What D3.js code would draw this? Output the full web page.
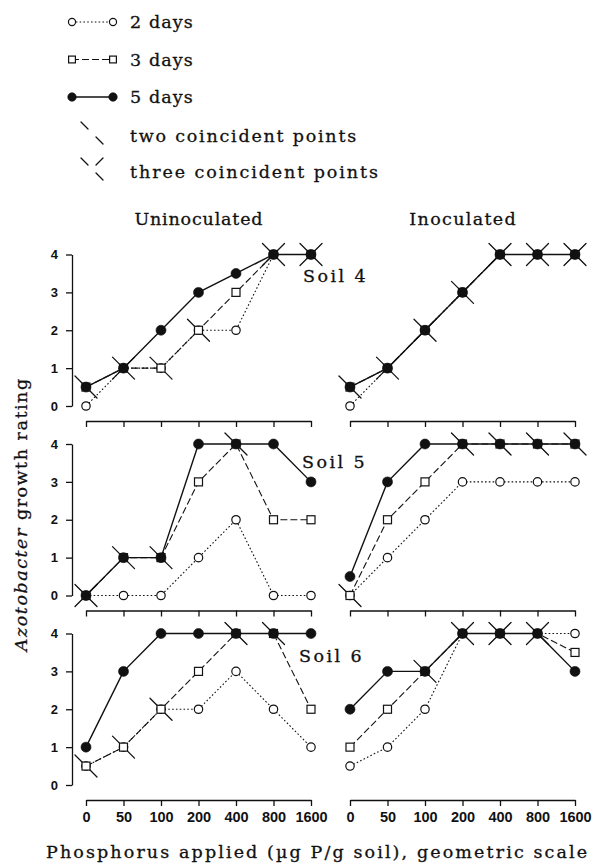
<!DOCTYPE html>
<html>
<head>
<meta charset="utf-8">
<script src="https://cdn.jsdelivr.net/npm/d3@7"></script>
<style>
  html, body { margin: 0; padding: 0; background: #fff; }
  svg { display: block; }
  .mono { font-family: "DejaVu Serif", "Liberation Serif", serif; fill: #111; stroke: #111; stroke-width: 0.3px; }
  .tick text { font-family: "Liberation Sans", Arial, sans-serif; font-weight: bold; fill: #111; }
</style>
</head>
<body>
<svg id="chart" width="594" height="864"></svg>
<script>
// ---- data ----
const categories = ["0", "50", "100", "200", "400", "800", "1600"];
const yTicks = [0, 1, 2, 3, 4];
const seriesNames = ["2 days", "3 days", "5 days"];
const soilNames = ["Soil 4", "Soil 5", "Soil 6"];
const treatments = ["Uninoculated", "Inoculated"];

const soil4Unin2 = [0, 1, 1, 2, 2, 4, 4];
const soil4Unin3 = [0.5, 1, 1, 2, 3, 4, 4];
const soil4Unin5 = [0.5, 1, 2, 3, 3.5, 4, 4];
const soil4Inoc2 = [0, 1, 2, 3, 4, 4, 4];
const soil4Inoc3 = [0.5, 1, 2, 3, 4, 4, 4];
const soil4Inoc5 = [0.5, 1, 2, 3, 4, 4, 4];

const soil5Unin2 = [0, 0, 0, 1, 2, 0, 0];
const soil5Unin3 = [0, 1, 1, 3, 4, 2, 2];
const soil5Unin5 = [0, 1, 1, 4, 4, 4, 3];
const soil5Inoc2 = [0, 1, 2, 3, 3, 3, 3];
const soil5Inoc3 = [0, 2, 3, 4, 4, 4, 4];
const soil5Inoc5 = [0.5, 3, 4, 4, 4, 4, 4];

const soil6Unin2 = [0.5, 1, 2, 2, 3, 2, 1];
const soil6Unin3 = [0.5, 1, 2, 3, 4, 4, 2];
const soil6Unin5 = [1, 3, 4, 4, 4, 4, 4];
const soil6Inoc2 = [0.5, 1, 2, 4, 4, 4, 4];
const soil6Inoc3 = [1, 2, 3, 4, 4, 4, 3.5];
const soil6Inoc5 = [2, 3, 3, 4, 4, 4, 3];

const panelData = [
  [[soil4Unin2, soil4Unin3, soil4Unin5], [soil4Inoc2, soil4Inoc3, soil4Inoc5]],
  [[soil5Unin2, soil5Unin3, soil5Unin5], [soil5Inoc2, soil5Inoc3, soil5Inoc5]],
  [[soil6Unin2, soil6Unin3, soil6Unin5], [soil6Inoc2, soil6Inoc3, soil6Inoc5]]
];

// ---- layout ----
const svg = d3.select("#chart");
const ink = "#111";
const colRanges = [[86, 311], [350, 575]];
const rowTops = [254.5, 444, 633.5];
const rowH = 151.5;
const axisGap = 15;
const fontSize = 17.5;
const charW = 10.9;

const xScales = colRanges.map(r => d3.scalePoint().domain(categories).range(r));

const dashStyles = ["1.6,2.2", "7,3", null];
const lineWidths = [1.1, 1.1, 1.4];

function typeText(sel, str, perChar) {
  sel.attr("class", "mono").style("font-size", fontSize + "px")
    .attr("textLength", (str.length - 0.25) * perChar).attr("lengthAdjust", "spacing");
  return sel;
}

function drawMarker(g, type, cx, cy, small) {
  const k = small ? 0.85 : 1;
  if (type === 0) {
    g.append("circle").attr("cx", cx).attr("cy", cy).attr("r", 4.2 * k)
      .attr("fill", "#fff").attr("stroke", ink).attr("stroke-width", 1.2);
  } else if (type === 1) {
    const s = 8 * k;
    g.append("rect").attr("x", cx - s / 2).attr("y", cy - s / 2).attr("width", s).attr("height", s)
      .attr("fill", "#fff").attr("stroke", ink).attr("stroke-width", 1.2);
  } else {
    g.append("circle").attr("cx", cx).attr("cy", cy).attr("r", 5 * k)
      .attr("fill", ink).attr("stroke", ink).attr("stroke-width", 0.6);
  }
}

function drawArms(g, cx, cy, dirs) {
  dirs.forEach(([dx, dy]) => {
    g.append("line")
      .attr("x1", cx + dx * 4).attr("y1", cy + dy * 4)
      .attr("x2", cx + dx * 11).attr("y2", cy + dy * 11)
      .attr("stroke", ink).attr("stroke-width", 1.3).attr("stroke-linecap", "round");
  });
}

// ---- legend ----
const legendRows = [22, 59.5, 97, 136, 172];
const legendTexts = ["2 days", "3 days", "5 days", "two coincident points", "three coincident points"];
const lg = svg.append("g");
[0, 1, 2].forEach(i => {
  const yy = legendRows[i];
  lg.append("line").attr("x1", 72).attr("x2", 113).attr("y1", yy).attr("y2", yy)
    .attr("stroke", ink).attr("stroke-width", lineWidths[i])
    .attr("stroke-dasharray", dashStyles[i]);
  drawMarker(lg, i, 72, yy, true);
  drawMarker(lg, i, 113, yy, true);
});
drawArms(lg, 92, legendRows[3] - 3, [[-1, -1], [1, 1]]);
drawArms(lg, 92, legendRows[4] - 3, [[-1, -1], [1, -1], [1, 1]]);
legendTexts.forEach((t, i) => {
  typeText(lg.append("text"), t, charW).attr("x", 130).attr("y", legendRows[i])
    .attr("dy", "0.35em").text(t);
});

// ---- column titles ----
treatments.forEach((t, c) => {
  typeText(svg.append("text"), t, charW)
    .attr("x", (colRanges[c][0] + colRanges[c][1]) / 2).attr("y", 225)
    .attr("text-anchor", "middle").text(t);
});

// ---- panels ----
panelData.forEach((row, r) => {
  const y = d3.scaleLinear().domain([0, 4]).range([rowTops[r] + rowH, rowTops[r]]);
  const y0 = y(0);

  // y axis (left column only)
  const ya = svg.append("g").attr("transform", `translate(72,0)`)
    .call(d3.axisLeft(y).tickValues(yTicks).tickSize(6).tickSizeOuter(0).tickPadding(8).tickFormat(d3.format("d")));
  ya.selectAll("path,line").attr("stroke", ink).attr("stroke-width", 1.3);
  ya.selectAll("text").style("font-size", "13px");

  row.forEach((series, c) => {
    const x = xScales[c];
    // x axis
    const xa = svg.append("g").attr("transform", `translate(0,${y0 + axisGap})`)
      .call(d3.axisBottom(x).tickSize(6).tickSizeOuter(0).tickPadding(6)
        .tickFormat(r === 2 ? (d => d) : () => ""));
    xa.selectAll("path,line").attr("stroke", ink).attr("stroke-width", 1.3);
    xa.selectAll("text").style("font-size", "14.5px");

    const g = svg.append("g");
    const lineGen = d3.line().x((d, i) => x(categories[i])).y(d => y(d));
    series.forEach((vals, s) => {
      g.append("path").attr("d", lineGen(vals)).attr("fill", "none")
        .attr("stroke", ink).attr("stroke-width", lineWidths[s])
        .attr("stroke-dasharray", dashStyles[s]);
    });
    // coincidence marks
    categories.forEach((cat, i) => {
      const counts = d3.rollups(series.map(v => v[i]), v => v.length, d => d);
      counts.forEach(([val, n]) => {
        if (n < 2) return;
        const cx = x(cat), cy = y(val);
        if (n === 2) drawArms(g, cx, cy, [[-1, -1], [1, 1]]);
        else drawArms(g, cx, cy, [[-1, -1], [1, -1], [-1, 1], [1, 1]]);
      });
    });
    series.forEach((vals, s) => {
      vals.forEach((v, i) => drawMarker(g, s, x(categories[i]), y(v), false));
    });
  });
});

// soil labels
const soilOffsets = [27.5, 24, 28.5];
const soilX = [303, 302, 299];
soilNames.forEach((t, r) => {
  typeText(svg.append("text"), t, charW).attr("x", soilX[r]).attr("y", rowTops[r] + soilOffsets[r]).text(t);
});

// axis titles
const xTitle = "Phosphorus applied (\u00b5g P/g soil), geometric scale";
typeText(svg.append("text"), xTitle, 11.1).attr("x", 46).attr("y", 858).text(xTitle);

const yTitleA = "Azotobacter", yTitleB = " growth rating";
const yt = typeText(svg.append("text"), yTitleA + yTitleB, 11)
  .attr("transform", "translate(27,515) rotate(-90)")
  .attr("text-anchor", "middle");
yt.append("tspan").style("font-style", "italic").text(yTitleA);
yt.append("tspan").text(yTitleB);
</script>
</body>
</html>
